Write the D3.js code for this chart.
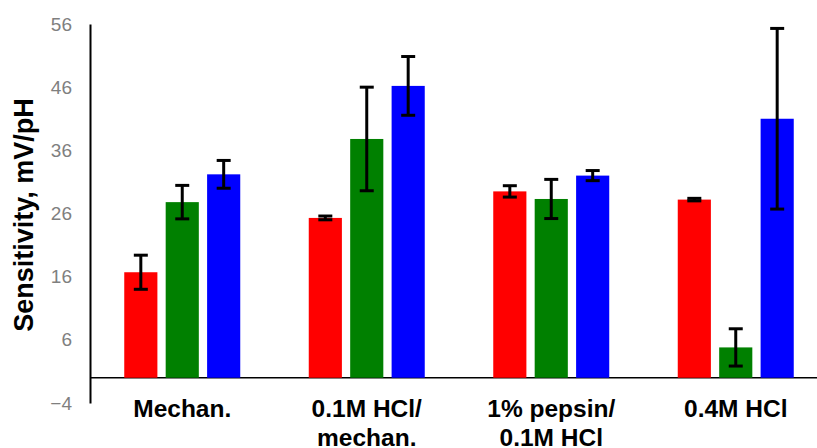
<!DOCTYPE html>
<html>
<head>
<meta charset="utf-8">
<script src="https://cdn.jsdelivr.net/npm/d3@7"></script>
<style>
  body { margin: 0; background: #fff; }
  .tick text { font-family: "Liberation Sans", Arial, sans-serif; font-size: 19px; fill: #7f7f7f; }
  .xlab { font-family: "Liberation Sans", Arial, sans-serif; font-weight: bold; font-size: 24.5px; fill: #000; }
  .ylab { font-family: "Liberation Sans", Arial, sans-serif; font-weight: bold; font-size: 27px; fill: #000; }
</style>
</head>
<body>
<div id="chart"></div>
<script>
// Sensitivity per treatment, three series (red, green, blue)
var categories = ["Mechan.", "0.1M HCl/\nmechan.", "1% pepsin/\n0.1M HCl", "0.4M HCl"];
var seriesNames = ["s1", "s2", "s3"];
var seriesColors = ["#ff0000", "#008000", "#0000ff"];
var values = [
    [16.7, 27.8, 32.2],
    [25.3, 37.8, 46.2],
    [29.5, 28.3, 32.0],
    [28.2, 4.8, 41.0]
];
var errors = [
    [2.7, 2.65, 2.2],
    [0.3, 8.2, 4.65],
    [0.9, 3.1, 0.8],
    [0.2, 2.95, 14.3]
];
var yTicks = [-4, 6, 16, 26, 36, 46, 56];

var width = 817, height = 448;

var svg = d3.select("#chart").append("svg")
    .attr("width", width)
    .attr("height", height);

var y = d3.scaleLinear().domain([-4, 56]).range([403, 24]);

// group positions (plot runs a little past the right edge)
var x0 = d3.scaleBand().domain(d3.range(categories.length)).range([90, 828]);
var x1 = d3.scaleBand().domain(d3.range(seriesNames.length))
    .range([x0.bandwidth() / 2 - 58, x0.bandwidth() / 2 + 58])
    .paddingInner(0.2);

// y axis
var yAxis = svg.append("g")
    .attr("transform", "translate(90,0)")
    .call(d3.axisLeft(y).tickValues(yTicks).tickSize(0).tickPadding(18));
yAxis.select(".domain").attr("stroke", "#000").attr("stroke-width", 2);

// zero line
svg.append("line")
    .attr("x1", 90).attr("x2", width)
    .attr("y1", y(0)).attr("y2", y(0))
    .attr("stroke", "#000").attr("stroke-width", 1.5);

// bars
var groups = svg.selectAll(".grp")
    .data(values)
    .enter().append("g")
    .attr("class", "grp")
    .attr("transform", function (d, i) { return "translate(" + x0(i) + ",0)"; });

groups.selectAll("rect")
    .data(function (d) { return d; })
    .enter().append("rect")
    .attr("x", function (d, j) { return x1(j); })
    .attr("width", x1.bandwidth())
    .attr("y", function (d) { return y(Math.max(0, d)); })
    .attr("height", function (d) { return Math.abs(y(d) - y(0)); })
    .attr("fill", function (d, j) { return seriesColors[j]; });

// error bars
var eb = groups.selectAll(".err")
    .data(function (d, i) { return d.map(function (v, j) { return { v: v, e: errors[i][j], j: j }; }); })
    .enter().append("g")
    .attr("class", "err")
    .attr("transform", function (d) { return "translate(" + (x1(d.j) + x1.bandwidth() / 2) + ",0)"; });

eb.append("line")
    .attr("x1", 0).attr("x2", 0)
    .attr("y1", function (d) { return y(d.v + d.e); })
    .attr("y2", function (d) { return y(d.v - d.e); })
    .attr("stroke", "#000").attr("stroke-width", 3);

eb.selectAll(".cap")
    .data(function (d) { return [d.v + d.e, d.v - d.e]; })
    .enter().append("line")
    .attr("class", "cap")
    .attr("x1", -7).attr("x2", 7)
    .attr("y1", function (d) { return y(d); })
    .attr("y2", function (d) { return y(d); })
    .attr("stroke", "#000").attr("stroke-width", 3);

// x labels, centred under each group
svg.selectAll(".xlab")
    .data(categories)
    .enter().append("text")
    .attr("class", "xlab")
    .attr("text-anchor", "middle")
    .attr("transform", function (d, i) { return "translate(" + (x0(i) + x0.bandwidth() / 2) + ",417)"; })
    .selectAll("tspan")
    .data(function (d) { return d.split("\n"); })
    .enter().append("tspan")
    .attr("x", 0)
    .attr("y", function (d, k) { return k * 29; })
    .text(function (d) { return d; });

// y label
svg.append("text")
    .attr("class", "ylab")
    .attr("text-anchor", "middle")
    .attr("transform", "translate(33,215) rotate(-90)")
    .text("Sensitivity, mV/pH");
</script>
</body>
</html>
